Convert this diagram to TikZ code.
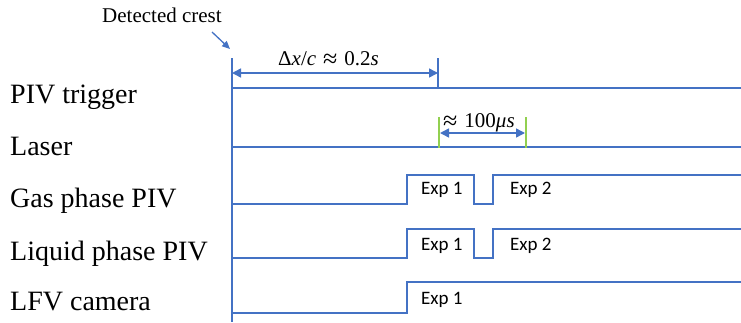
\documentclass[tikz,border=0pt]{standalone}
\usepackage{fontspec}
\setmainfont{Liberation Serif}
\newfontfamily\expfont{Carlito}
\usetikzlibrary{arrows.meta}
\definecolor{sigblue}{HTML}{4472C4}
\definecolor{tickgreen}{HTML}{92D050}
\newcommand{\apx}{\raisebox{-2.5pt}{\fontsize{26}{26}\selectfont ≈}}
\begin{document}
\begin{tikzpicture}[x=1pt,y=-1pt,
  sig/.style={draw=sigblue,line width=2pt},
  rowlbl/.style={anchor=base west,font=\fontsize{28}{32}\selectfont,inner sep=0},
  explbl/.style={anchor=base west,font=\expfont\fontsize{19}{22}\selectfont,inner sep=0},
  mathlbl/.style={anchor=base west,font=\fontsize{21}{24}\selectfont,inner sep=0},
  dimarrow/.style={draw=sigblue,line width=1.5pt,{Triangle[length=9pt,width=9pt]}-{Triangle[length=9pt,width=9pt]}},
  gtick/.style={draw=tickgreen,line width=2pt}]
\useasboundingbox (0,0) rectangle (741,322);
% row labels
\node[rowlbl] (ltrig) at (10,103) {PIV trigger};
\node[rowlbl] (llaser) at (10,155) {Laser};
\node[rowlbl] (lgas) at (10,207) {Gas phase PIV};
\node[rowlbl] (lliq) at (10,260) {Liquid phase PIV};
\node[rowlbl] (llfv) at (10,310) {LFV camera};
% detected crest
\node[anchor=base west,font=\fontsize{21}{24}\selectfont,inner sep=0] (crest) at (102,22) {Detected crest};
\coordinate (crestfrom) at (212,32);
\coordinate (axtop) at (232,58);
\coordinate (axbot) at (232,322);
\draw[draw=sigblue,line width=1.3pt,-{Triangle[length=8pt,width=7pt]}] (crestfrom) -- (230,49);
% axis
\draw[sig] (axtop) -- (axbot);
% PIV trigger
\coordinate (t0) at (232,88);
\coordinate (t1) at (438,88);
\coordinate (t1top) at (438,58);
\draw[sig] (t0) -- (741,88);
\draw[sig] (t1top) -- (t1);
\coordinate (d0) at (232,73);
\coordinate (d1) at (438,73);
\draw[dimarrow] (d0) -- (d1);
\node[mathlbl] (dxlbl) at (278,65) {Δ\textit{x}/\textit{c}\hspace{7pt}\apx\hspace{7pt}0.2\textit{s}};
% Laser
\draw[sig] (232,147) -- (741,147);
\coordinate (g0t) at (439,117);
\coordinate (g0b) at (439,148);
\coordinate (g1t) at (526,117);
\coordinate (g1b) at (526,148);
\draw[gtick] (g0t) -- (g0b);
\draw[gtick] (g1t) -- (g1b);
\draw[dimarrow] (440,133) -- (525,133);
\node[mathlbl] (uslbl) at (443,127) {\apx\hspace{7pt}100\textit{μs}};
% Gas phase PIV
\draw[sig] (232,204) -- (407,204) -- (407,175) -- (474,175) -- (474,204) -- (493,204) -- (493,175) -- (741,175);
\node[explbl] (ge1) at (421,194) {Exp 1};
\node[explbl] (ge2) at (510,194) {Exp 2};
% Liquid phase PIV
\draw[sig] (232,258) -- (407,258) -- (407,229) -- (474,229) -- (474,258) -- (493,258) -- (493,229) -- (741,229);
\node[explbl] (le1) at (421,250) {Exp 1};
\node[explbl] (le2) at (510,250) {Exp 2};
% LFV camera
\draw[sig] (232,313) -- (407,313) -- (407,282) -- (741,282);
\node[explbl] (fe1) at (421,304) {Exp 1};
\end{tikzpicture}
\end{document}
